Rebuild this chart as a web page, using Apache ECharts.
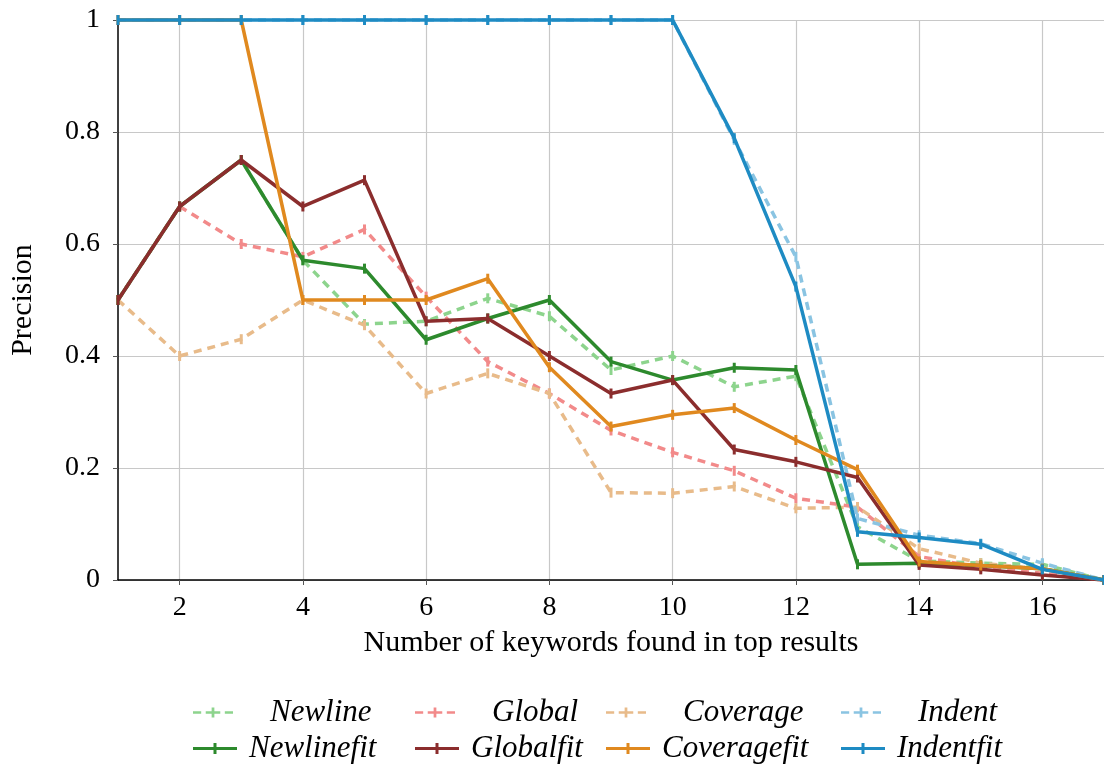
<!DOCTYPE html>
<html>
<head>
<meta charset="utf-8">
<script src="https://cdn.jsdelivr.net/npm/echarts@6/dist/echarts.min.js"></script>
<style>
html,body{margin:0;padding:0;background:#fff;}
#chart{width:1104px;height:766px;}
</style>
</head>
<body>
<div id="chart"></div>
<script>
const xValues = [1,2,3,4,5,6,7,8,9,10,11,12,13,14,15,16,17];
const xTickValues = [2,4,6,8,10,12,14,16];

const newline     = [0.5,0.667,0.75,0.571,0.457,0.462,0.503,0.471,0.375,0.4,0.345,0.364,0.095,0.034,0.03,0.028,0];
const global      = [0.5,0.667,0.6,0.577,0.626,0.506,0.39,0.333,0.267,0.228,0.195,0.146,0.13,0.042,0.022,0.012,0];
const coverage    = [0.5,0.4,0.43,0.5,0.455,0.333,0.369,0.333,0.156,0.155,0.167,0.128,0.13,0.056,0.03,0.02,0];
const indent      = [1,1,1,1,1,1,1,1,1,1,0.786,0.577,0.11,0.08,0.065,0.03,0];
const newlinefit  = [0.5,0.667,0.75,0.571,0.556,0.429,0.467,0.5,0.39,0.357,0.379,0.375,0.028,0.03,0.026,0.02,0];
const globalfit   = [0.5,0.667,0.75,0.667,0.714,0.462,0.467,0.4,0.333,0.357,0.233,0.211,0.183,0.027,0.019,0.009,0];
const coveragefit = [1,1,1,0.5,0.5,0.5,0.538,0.38,0.274,0.295,0.307,0.25,0.197,0.033,0.026,0.02,0];
const indentfit   = [1,1,1,1,1,1,1,1,1,1,0.789,0.524,0.086,0.076,0.064,0.019,0];

const seriesNames = ['Newline','Global','Coverage','Indent','Newlinefit','Globalfit','Coveragefit','Indentfit'];
const seriesValues = [newline, global, coverage, indent, newlinefit, globalfit, coveragefit, indentfit];
const seriesColors = ['#8dd48d','#f28a8a','#e8bb8a','#8ac4e2','#2d8a2d','#8b2d2d','#e0891f','#1e8bc3'];
const seriesDashed = [true,true,true,true,false,false,false,false];

// legend layout: [left, top, textPad]
const legendPos = [
  [193, 697, 32],[415, 697, 32],[606, 697, 32],[841, 697, 32],
  [193, 733, 6],[415, 733, 6],[606, 733, 6],[841, 733, 6]
];

const dashIcon  = 'path://M0,4.5h9v3H0z M14,4.5h16v3H14z M35,4.5h9v3H35z M20.5,0.5h3v11h-3z';
const solidIcon = 'path://M0,4.5h44v3H0z M20.5,0.5h3v11h-3z';

const serif = '"Liberation Serif", "DejaVu Serif", serif';

const series = seriesNames.map((name, i) => ({
  name: name,
  type: 'line',
  data: xValues.map((x, j) => [x, seriesValues[i][j]]),
  symbol: 'rect',
  symbolSize: [3, 10],
  showSymbol: true,
  clip: false,
  animation: false,
  z: 2 + i,
  itemStyle: { color: seriesColors[i] },
  lineStyle: {
    color: seriesColors[i],
    width: 3.5,
    type: seriesDashed[i] ? [8, 6] : 'solid'
  },
  emphasis: { disabled: true }
}));

const legends = seriesNames.map((name, i) => ({
  data: [{ name: name, icon: seriesDashed[i] ? dashIcon : solidIcon }],
  left: legendPos[i][0],
  top: legendPos[i][1],
  itemWidth: seriesDashed[i] ? 40 : 46,
  itemHeight: 11,
  padding: 0,
  selectedMode: false,
  textStyle: {
    fontFamily: serif,
    fontStyle: 'italic',
    fontSize: 31,
    color: '#000',
    padding: [0, 0, 0, legendPos[i][2]]
  }
}));

const chart = echarts.init(document.getElementById('chart'), null, { renderer: 'canvas' });
chart.setOption({
  backgroundColor: '#fff',
  animation: false,
  grid: { left: 116, right: 0, top: 20, bottom: 186, containLabel: false },
  legend: legends,
  xAxis: {
    type: 'value',
    min: 1,
    max: 17,
    name: 'Number of keywords found in top results',
    nameLocation: 'middle',
    nameGap: 48,
    nameTextStyle: { fontFamily: serif, fontSize: 30, color: '#000' },
    axisLine: { show: true, onZero: false, lineStyle: { color: '#000', width: 1.5 } },
    axisTick: { show: true, length: 5, customValues: xTickValues, lineStyle: { color: '#555' } },
    axisLabel: { customValues: xTickValues, fontFamily: serif, fontSize: 28, color: '#000', margin: 14 },
    splitLine: { show: true, lineStyle: { color: '#c8c8c8', width: 1.2 } }
  },
  yAxis: {
    type: 'value',
    min: 0,
    max: 1,
    interval: 0.2,
    name: 'Precision',
    nameLocation: 'middle',
    nameGap: 80,
    nameRotate: 90,
    nameTextStyle: { fontFamily: serif, fontSize: 30, color: '#000' },
    axisLine: { show: true, lineStyle: { color: '#000', width: 1.5 } },
    axisTick: { show: true, length: 5, lineStyle: { color: '#555' } },
    axisLabel: { fontFamily: serif, fontSize: 28, color: '#000', margin: 18,
      formatter: v => String(Math.round(v * 10) / 10) },
    splitLine: { show: true, lineStyle: { color: '#c8c8c8', width: 1.2 } }
  },
  series: series
});
</script>
</body>
</html>
